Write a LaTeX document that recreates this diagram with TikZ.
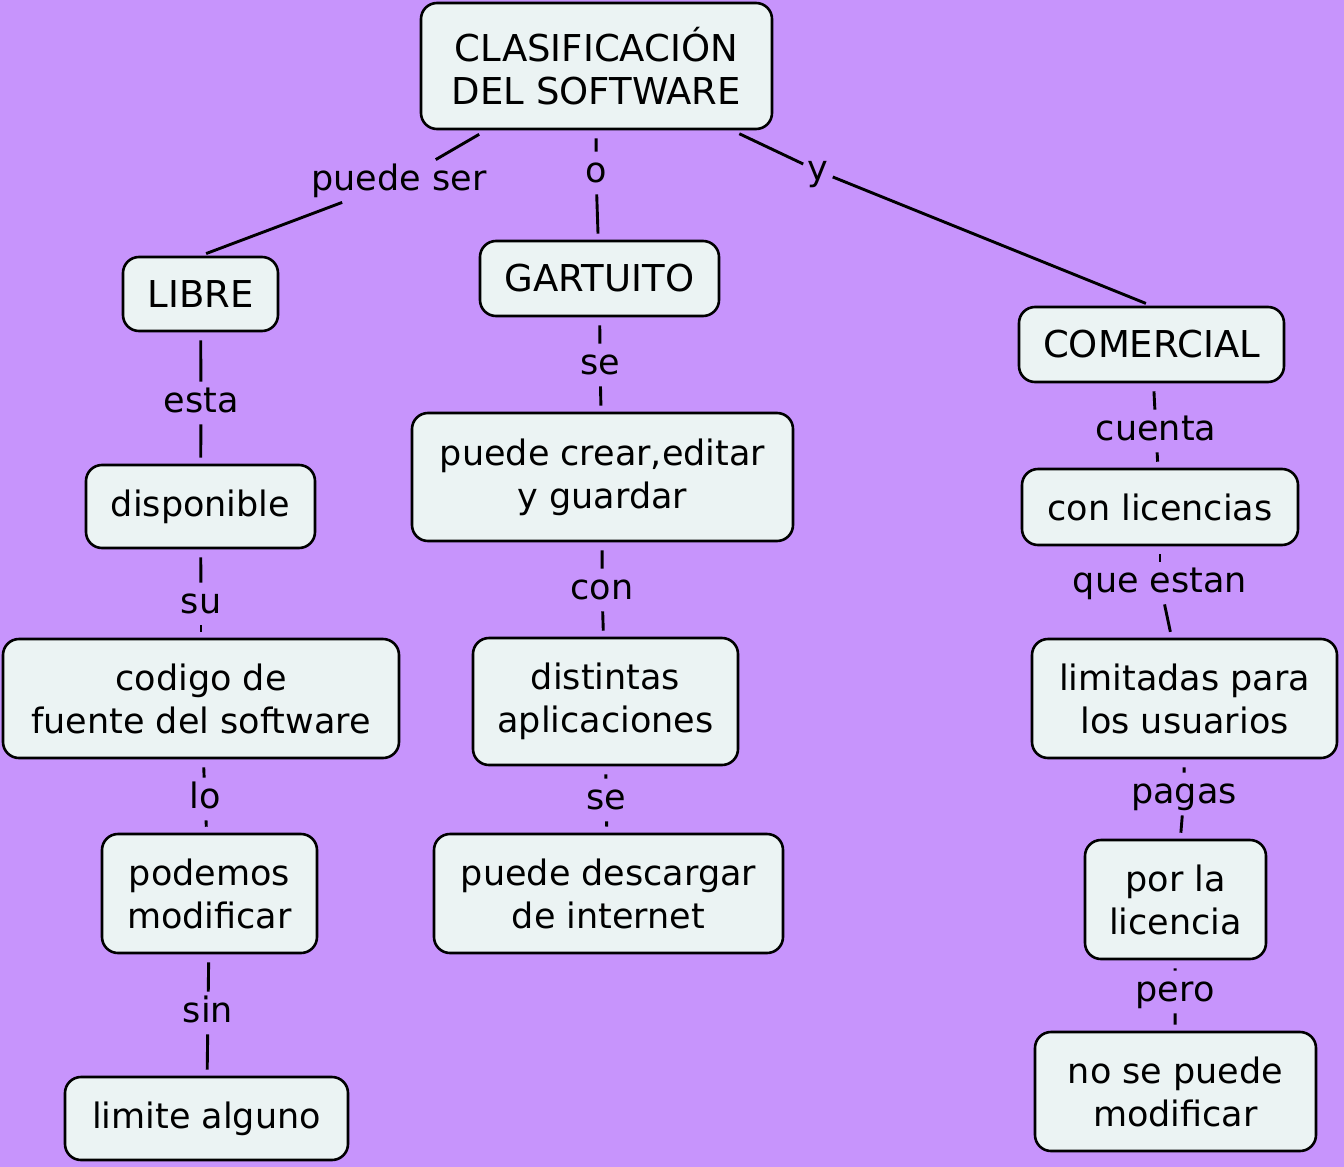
\documentclass[tikz,border=0pt]{standalone}
\usepackage{fontspec}
\setmainfont{DejaVu Sans}
\definecolor{mapbg}{HTML}{C794FC}
\definecolor{conceptfill}{HTML}{EBF3F3}

\begin{document}
\begin{tikzpicture}[x=0.5pt, y=-0.5pt,
  every node/.style={font=\fontsize{17.5}{21.5}\selectfont},
  concept/.style={draw, line width=1.3pt, rounded corners=8pt, fill=conceptfill, align=center, inner sep=0pt},
  capsfont/.style={font=\fontsize{18.5}{21.5}\selectfont},
  linkword/.style={inner sep=2pt, text height=13pt, text depth=4pt},
  tolink/.style={line width=1.45pt, shorten <=4pt},
  fromlink/.style={line width=1.45pt, shorten >=3pt}]
  \fill[mapbg] (0,0) rectangle (1344,1167);
  % concepts
  \node[concept, capsfont, minimum width=175.5pt, minimum height=63pt] (root) at (596.5,66) {CLASIFICACIÓN\\DEL SOFTWARE};
  \node[concept, capsfont, minimum width=77.5pt, minimum height=37pt] (libre) at (200.5,294) {LIBRE};
  \node[concept, capsfont, minimum width=119.5pt, minimum height=37.5pt] (gratuito) at (599.5,278.5) {GARTUITO};
  \node[concept, capsfont, minimum width=132.5pt, minimum height=37.5pt] (comercial) at (1151.5,344.5) {COMERCIAL};
  \node[concept, minimum width=114.5pt, minimum height=41.5pt] (disponible) at (200.5,506.5) {disponible};
  \node[concept, minimum width=198pt, minimum height=59.5pt] (codigo) at (201,698.5) {codigo de\\fuente del software};
  \node[concept, minimum width=107.5pt, minimum height=59.5pt] (podemos) at (209.5,893.5) {podemos\\modificar};
  \node[concept, minimum width=141.5pt, minimum height=41.5pt] (limite) at (206.5,1118.5) {limite alguno};
  \node[concept, minimum width=190.5pt, minimum height=64pt] (crear) at (602.5,477) {puede crear,editar\\y guardar};
  \node[concept, minimum width=132.5pt, minimum height=63.5pt] (distintas) at (605.5,701.5) {distintas\\aplicaciones};
  \node[concept, minimum width=174.5pt, minimum height=59.5pt] (descargar) at (608.5,893.5) {puede descargar\\de internet};
  \node[concept, minimum width=138pt, minimum height=38pt] (licencias) at (1160,507) {con licencias};
  \node[concept, minimum width=152.5pt, minimum height=59.5pt] (limitadas) at (1184.5,698.5) {limitadas para\\los usuarios};
  \node[concept, minimum width=90.5pt, minimum height=59.5pt] (porla) at (1175.5,899.5) {por la\\licencia};
  \node[concept, minimum width=140.5pt, minimum height=59.5pt] (nose) at (1175.5,1091.5) {no se puede\\modificar};
  % linking words
  \node[linkword] (puedeser) at (399,181) {puede ser};
  \node[linkword] (o) at (596,173) {o};
  \node[linkword] (y) at (818,171) {y};
  \node[linkword] (esta) at (201,403) {esta};
  \node[linkword] (su) at (201,604) {su};
  \node[linkword] (lo) at (205,799) {lo};
  \node[linkword] (sin) at (208,1013) {sin};
  \node[linkword] (se) at (600,365) {se};
  \node[linkword] (con) at (602,590) {con};
  \node[linkword] (sedos) at (606,800) {se};
  \node[linkword] (cuenta) at (1156,431) {cuenta};
  \node[linkword] (queestan) at (1160,583) {que estan};
  \node[linkword] (pagas) at (1184,794) {pagas};
  \node[linkword] (pero) at (1175,992) {pero};
  % connectors
  \draw[tolink] (root) -- (puedeser);
  \draw[fromlink] (puedeser) -- (libre.north);
  \draw[tolink] (root) -- (o);
  \draw[fromlink] (o) -- (gratuito);
  \draw[tolink] (root) -- (y);
  \draw[fromlink] (y) -- (comercial.north);
  \draw[tolink] (libre) -- (esta);
  \draw[fromlink] (esta) -- (disponible);
  \draw[tolink] (disponible) -- (su);
  \draw[fromlink] (su) -- (codigo);
  \draw[tolink] (codigo) -- (lo);
  \draw[fromlink] (lo) -- (podemos);
  \draw[tolink] (podemos) -- (sin);
  \draw[fromlink] (sin) -- (limite);
  \draw[tolink] (gratuito) -- (se);
  \draw[fromlink] (se) -- (crear);
  \draw[tolink] (crear) -- (con);
  \draw[fromlink] (con) -- (distintas);
  \draw[tolink] (distintas) -- (sedos);
  \draw[fromlink] (sedos) -- (descargar);
  \draw[tolink] (comercial) -- (cuenta);
  \draw[fromlink] (cuenta) -- (licencias);
  \draw[tolink] (licencias) -- (queestan);
  \draw[fromlink] (queestan) -- (limitadas);
  \draw[tolink] (limitadas) -- (pagas);
  \draw[fromlink] (pagas) -- (porla);
  \draw[tolink] (porla) -- (pero);
  \draw[fromlink] (pero) -- (nose);
\end{tikzpicture}
\end{document}
